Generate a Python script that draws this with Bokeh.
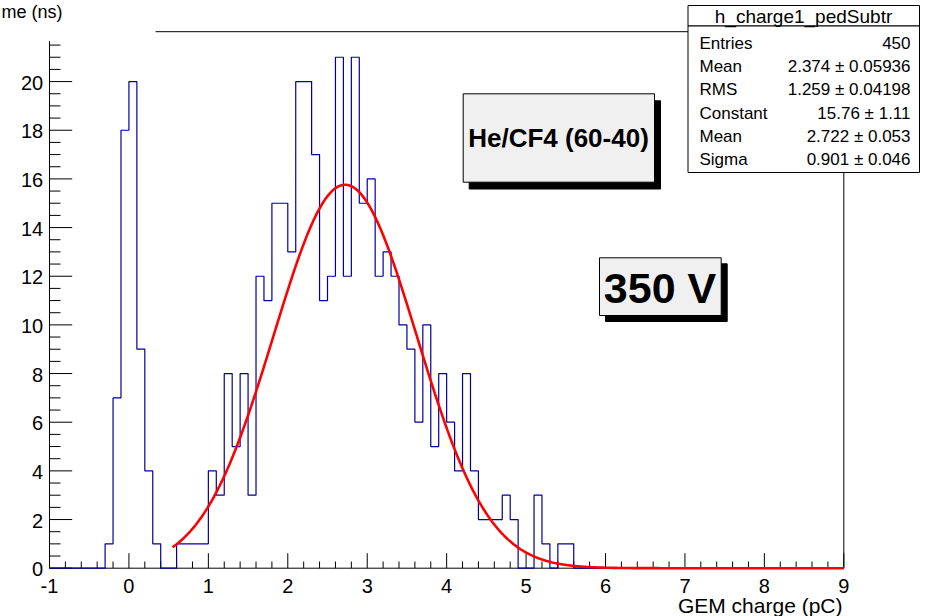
import numpy as np
from bokeh.plotting import figure
from bokeh.models import Range1d, Label, BoxAnnotation
from bokeh.core.properties import value
from bokeh.embed import file_html
from bokeh.resources import INLINE

# ---------------- data ----------------
x_lo, x_hi = -1.0, 9.0
n_bins = 100
# bin contents, 0.1 wide bins from -1.0 to 9.0
counts = [0, 0, 0, 0, 0, 0, 0,                      # -1.0 .. -0.4
          1, 7, 18, 20, 9, 4, 1,                    # -0.3 .. 0.3
          0, 0, 1, 1, 1, 1,                         # 0.4 .. 0.9
          4, 3, 8, 5, 8, 3, 12, 11, 15, 15,         # 1.0 .. 1.9
          13, 20, 20, 17, 11, 12, 21, 12, 21, 15,  # 2.0 .. 2.9
          16, 12, 13, 12, 10, 9, 6, 10, 5, 8,       # 3.0 .. 3.9
          6, 4, 8, 4, 2, 2, 2, 3, 2, 0,             # 4.0 .. 4.9
          0, 3, 1, 0, 1, 1,                         # 5.0 .. 5.5
          0, 0, 0, 0,                               # 5.6 .. 5.9
          0, 0, 0, 0, 0, 0, 0, 0, 0, 0,             # 6.x
          0, 0, 0, 0, 0, 0, 0, 0, 0, 0,             # 7.x
          0, 0, 0, 0, 0, 0, 0, 0, 0, 0]             # 8.x

# gaussian fit parameters (from the stats box) and fit range start
fit_constant = 15.76
fit_mean = 2.722
fit_sigma = 0.901
fit_lo = 0.55

y_max = 22.05          # frame top (ROOT: 1.05 * max bin)
y_axis_top = 21.66     # visible end of the y axis line

x_major = [-1, 0, 1, 2, 3, 4, 5, 6, 7, 8, 9]
x_major_labels = ["-1", "0", "1", "2", "3", "4", "5", "6", "7", "8", "9"]
y_major = [0, 2, 4, 6, 8, 10, 12, 14, 16, 18, 20]
y_major_labels = ["0", "2", "4", "6", "8", "10", "12", "14", "16", "18", "20"]
x_minor_step = 0.2
y_minor_step = 0.5

stats_title = "h_charge1_pedSubtr"
stats_names = ["Entries", "Mean", "RMS", "Constant", "Mean", "Sigma"]
stats_values = ["450", "2.374 ± 0.05936", "1.259 ± 0.04198",
                "15.76 ± 1.11", "2.722 ± 0.053", "0.901 ± 0.046"]

x_title = "GEM charge (pC)"
y_title_fragment = "me (ns)"
gas_text = "He/CF4 (60-40)"
voltage_text = "350 V"

FONT = "Liberation Sans"

# ---------------- geometry (pixels) ----------------
W, H = 933, 616
FRAME_L, FRAME_R = 49.0, 843.3     # x = -1 and x = 9
FRAME_B, FRAME_T = 567.7, 31.2     # y = 0 and y = y_max
sx = (FRAME_R - FRAME_L) / (x_hi - x_lo)
sy = (FRAME_B - FRAME_T) / y_max

xr = Range1d(x_lo - FRAME_L / sx, x_lo + (W - FRAME_L) / sx)
yr = Range1d(-(H - FRAME_B) / sy, FRAME_B / sy)

p = figure(width=W, height=H, x_range=xr, y_range=yr, min_border=0,
           x_axis_type=None, y_axis_type=None, title=None,
           output_backend="svg", toolbar_location=None)
p.outline_line_color = None
p.background_fill_color = "white"
p.border_fill_color = "white"

# ---------------- axes (drawn through the scales) ----------------
# axis lines + partial frame (top and right)
p.segment(x0=[x_lo, x_lo, 0.335, x_hi], y0=[0, 0, y_max, 0],
          x1=[x_hi, x_lo, x_hi, x_hi], y1=[0, y_axis_top, y_max, y_max],
          line_color="black", line_width=1)

x_minor = [v for v in np.arange(x_lo, x_hi + 1e-9, x_minor_step)
           if abs(v - round(v)) > 1e-6]
y_minor = [v for v in np.arange(0, y_axis_top, y_minor_step)
           if abs(v / 2 - round(v / 2)) > 1e-6]

# x ticks (inside, upward)
p.segment(x0=x_major, y0=[0] * len(x_major), x1=x_major,
          y1=[15 / sy] * len(x_major), line_color="black", line_width=1)
p.segment(x0=x_minor, y0=[0] * len(x_minor), x1=x_minor,
          y1=[6.7 / sy] * len(x_minor), line_color="black", line_width=1)
# y ticks (inside, rightward)
p.segment(x0=[x_lo] * len(y_major), y0=y_major, x1=[x_lo + 22.7 / sx] * len(y_major),
          y1=y_major, line_color="black", line_width=1)
p.segment(x0=[x_lo] * len(y_minor), y0=y_minor, x1=[x_lo + 11 / sx] * len(y_minor),
          y1=y_minor, line_color="black", line_width=1)

# tick labels
p.text(x=x_major, y=[0] * len(x_major), text=x_major_labels,
       text_font=value(FONT), text_font_size=value("20px"), text_color="black",
       text_align="center", text_baseline="middle", y_offset=17.3)
p.text(x=[x_lo] * len(y_major), y=y_major, text=y_major_labels,
       text_font=value(FONT), text_font_size=value("20px"), text_color="black",
       text_align="right", text_baseline="middle", x_offset=-6.3, y_offset=1)

# ---------------- histogram ----------------
edges = np.linspace(x_lo, x_hi, n_bins + 1)
step_y = counts + [counts[-1]]
p.step(edges, step_y, mode="after", line_color="#000099", line_width=1.2)

# ---------------- fit ----------------
fx = np.linspace(fit_lo, x_hi, 600)
fy = fit_constant * np.exp(-0.5 * ((fx - fit_mean) / fit_sigma) ** 2)
p.line(fx, fy, line_color="#ff0000", line_width=2.6)


# ---------------- annotations (canvas pixels, top-left origin) ----------------
def cbox(l, r, t, b, fill="white", line="black"):
    return BoxAnnotation(left=l, right=r, top=t, bottom=b,
                         left_units="canvas", right_units="canvas",
                         top_units="canvas", bottom_units="canvas",
                         fill_color=fill, fill_alpha=1.0,
                         line_color=line, line_alpha=1.0, line_width=1)


def clabel(x, y, text, size, align="left", baseline="middle", style="normal"):
    return Label(x=x, y=y, x_units="canvas", y_units="canvas", text=text,
                 text_font=FONT, text_font_size=size, text_font_style=style,
                 text_align=align, text_baseline=baseline, text_color="black")


# stats box
p.add_layout(cbox(687.5, 919, 5, 25.5))
p.add_layout(cbox(687.5, 919, 25.5, 172))
p.add_layout(clabel(803, 15.5, stats_title, "19px", align="center"))
for i, (nm, val) in enumerate(zip(stats_names, stats_values)):
    yy = 42.7 + i * 23.3
    p.add_layout(clabel(699, yy, nm, "17px", align="left"))
    p.add_layout(clabel(910, yy, val, "17px", align="right"))

# gas box (with shadow)
p.add_layout(cbox(468.7, 660, 100.3, 188.5, fill="black"))
p.add_layout(cbox(462.7, 654, 93.3, 181.7, fill="#f0f0f0"))
p.add_layout(clabel(558, 137.5, gas_text, "26px", align="center", style="bold"))

# voltage box (with shadow)
p.add_layout(cbox(605, 726.7, 263.3, 321, fill="black"))
p.add_layout(cbox(599, 720.7, 257.3, 315, fill="#f0f0f0"))
p.add_layout(clabel(659.5, 287.5, voltage_text, "43px", align="center", style="bold"))

# axis titles
p.add_layout(clabel(1, 11.5, y_title_fragment, "18px", align="left"))
p.add_layout(clabel(842, 604.5, x_title, "21px", align="right"))

open("out.html", "w").write(file_html(p, INLINE))
